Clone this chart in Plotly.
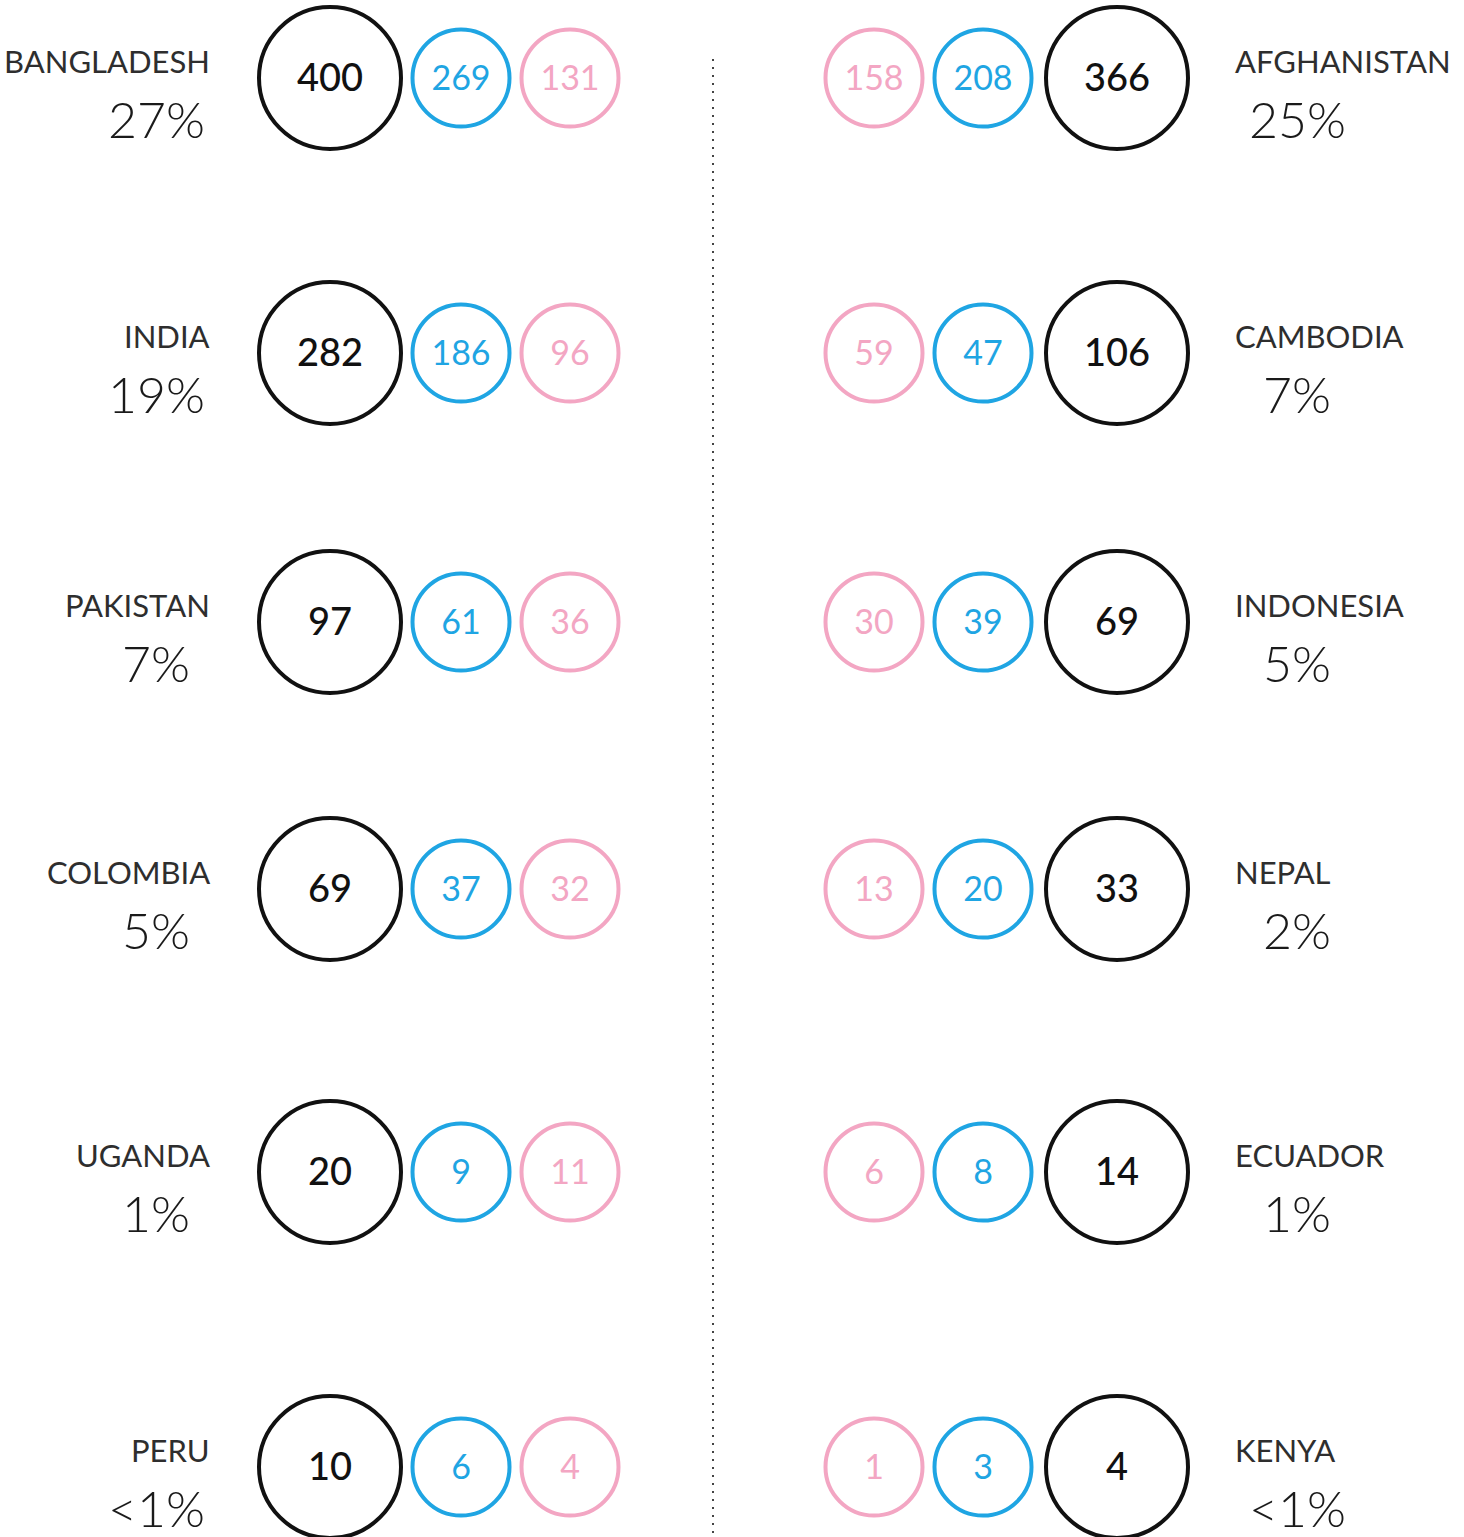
import plotly.graph_objects as go

# ---- data ----
left_countries = ["BANGLADESH", "INDIA", "PAKISTAN", "COLOMBIA", "UGANDA", "PERU"]
left_share = ["27%", "19%", "7%", "5%", "1%", "<1%"]
left_total = [400, 282, 97, 69, 20, 10]
left_blue = [269, 186, 61, 37, 9, 6]
left_pink = [131, 96, 36, 32, 11, 4]

right_countries = ["AFGHANISTAN", "CAMBODIA", "INDONESIA", "NEPAL", "ECUADOR", "KENYA"]
right_share = ["25%", "7%", "5%", "2%", "1%", "<1%"]
right_total = [366, 106, 69, 33, 14, 4]
right_blue = [208, 47, 39, 20, 8, 3]
right_pink = [158, 59, 30, 13, 6, 1]

# ---- layout constants ----
W, H = 1464, 1537
row_y = [78, 353, 622, 889, 1172, 1467]
BLACK = "#111111"
BLUE = "#1FA5E3"
PINK = "#F3A6C3"
NUM_FONT = "Lato"
NAME_FONT = "Lato"
TEXT_SHIFT = 3  # pixel nudge so digits sit optically centred in circles

fig = go.Figure()


def circles(xpos, values, color, size, lw, fsize, fcolor, weight):
    fig.add_trace(go.Scatter(
        x=[xpos] * len(values), y=row_y,
        mode="markers",
        marker=dict(size=size, color="rgba(255,255,255,0)",
                    line=dict(color=color, width=lw)),
        hoverinfo="skip", showlegend=False,
    ))
    fig.add_trace(go.Scatter(
        x=[xpos] * len(values), y=[y + TEXT_SHIFT for y in row_y],
        mode="text",
        text=[str(v) for v in values],
        textposition="middle center",
        textfont=dict(family=NUM_FONT, size=fsize, color=fcolor, weight=weight),
        hoverinfo="skip", showlegend=False, cliponaxis=False,
    ))


# left side
circles(330, left_total, BLACK, 142, 4, 38, BLACK, 500)
circles(461, left_blue, BLUE, 97, 4, 34, BLUE, 400)
circles(570, left_pink, PINK, 97, 4, 34, PINK, 400)
# right side
circles(1117, right_total, BLACK, 142, 4, 38, BLACK, 500)
circles(983, right_blue, BLUE, 97, 4, 34, BLUE, 400)
circles(874, right_pink, PINK, 97, 4, 34, PINK, 400)

annotations = []
for names, shares, name_x, name_anchor, pct_x in [
    (left_countries, left_share, 212, "right", 156),
    (right_countries, right_share, 1233, "left", 1297),
]:
    for name, share, y in zip(names, shares, row_y):
        annotations.append(dict(
            x=name_x, y=y - 17, xref="x", yref="y", text=name,
            xanchor=name_anchor, yanchor="middle", showarrow=False,
            font=dict(family=NAME_FONT, size=31, color="#2e2e2e", weight=400),
        ))
        annotations.append(dict(
            x=pct_x, y=y + 41, xref="x", yref="y",
            text=share.replace("<", "&lt;"),
            xanchor="center", yanchor="middle", showarrow=False,
            font=dict(family=NUM_FONT, size=50, color="#1a1a1a", weight=300),
        ))

fig.update_layout(
    width=W, height=H,
    margin=dict(l=0, r=0, t=0, b=0),
    paper_bgcolor="white", plot_bgcolor="white",
    xaxis=dict(range=[0, W], visible=False, fixedrange=True),
    yaxis=dict(range=[H, 0], visible=False, fixedrange=True),
    annotations=annotations,
    shapes=[dict(type="line", xref="x", yref="y", x0=713, x1=713, y0=59, y1=H,
                 line=dict(color="#444444", width=2, dash="2px,6px"))],
)

fig.write_html("out.html", config={"displayModeBar": False},
               post_script="document.body.style.margin='0';")
